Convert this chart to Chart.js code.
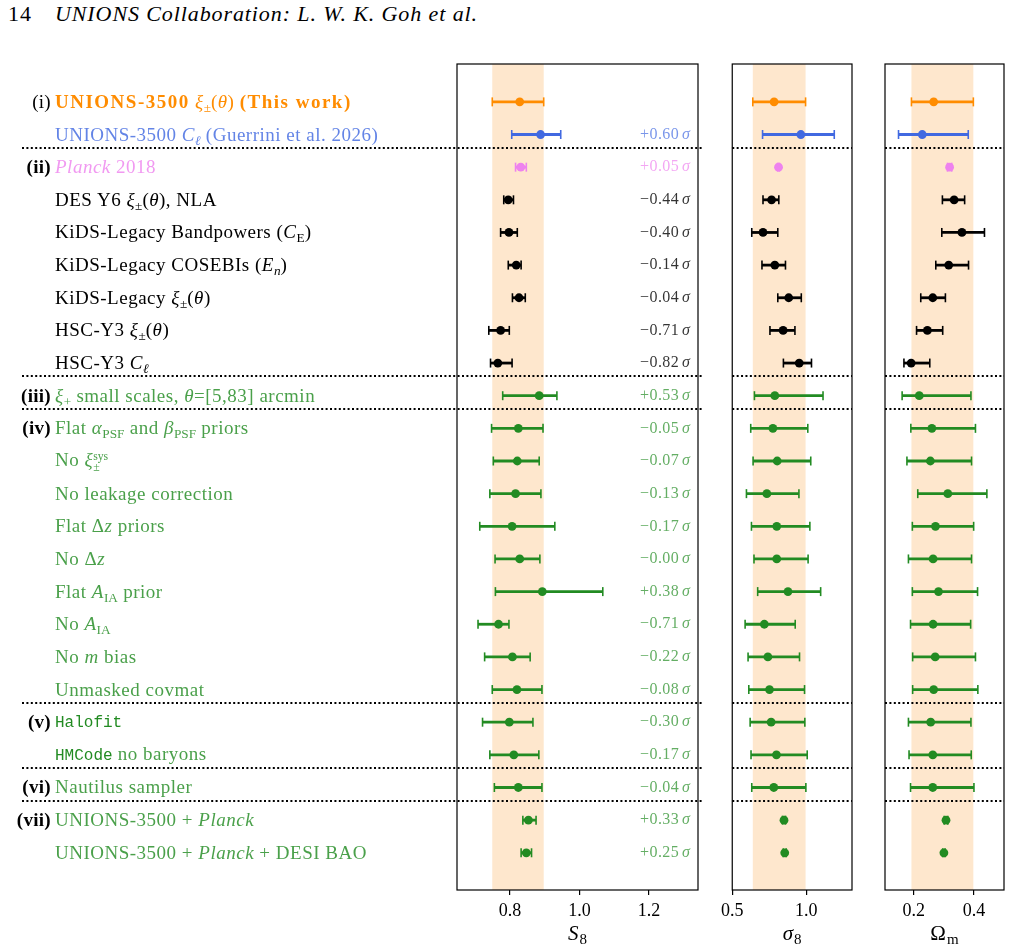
<!DOCTYPE html>
<html>
<head>
<meta charset="utf-8">
<script src="https://cdn.jsdelivr.net/npm/chart.js@4.4.1/dist/chart.umd.min.js"></script>
<style>
  body { margin: 0; background: #fff; width: 1012px; height: 951px; overflow: hidden; position: relative; font-family: "Liberation Serif", serif; }
  canvas { position: absolute; top: 0; }
  .hdr { position: absolute; top: 1px; font-size: 22px; letter-spacing: 0.9px; white-space: nowrap; }
  .lab { position: absolute; left: 55px; white-space: nowrap; font-size: 19px; letter-spacing: 0.5px; line-height: 20px; transform: translateY(-50%); }
  .lab b { letter-spacing: 1.5px; }
  .tag { position: absolute; right: 961px; white-space: nowrap; font-size: 19px; letter-spacing: 0.3px; line-height: 20px; transform: translateY(-50%); color: #000; }
  sub { font-size: 0.7em; vertical-align: -0.3em; line-height: 0; letter-spacing: 0; }
  .ss { display: inline-flex; flex-direction: column; vertical-align: 0.55em; font-size: 0.62em; line-height: 0.95em; letter-spacing: 0; }
  .tt { font-family: "Liberation Mono", monospace; font-size: 16px; letter-spacing: 0; color: rgb(34,139,34); }
</style>
</head>
<body>
<div class="hdr" style="left:8px">14</div>
<div class="hdr" style="left:55px"><i>UNIONS Collaboration: L. W. K. Goh et al.</i></div>

<canvas id="cS8" width="712" height="951" style="left:0"></canvas>
<canvas id="cSig" width="150" height="951" style="left:716px"></canvas>
<canvas id="cOm" width="144" height="951" style="left:868px"></canvas>

<script>
// rows, top to bottom
const rowLabels = [
  '<b>UNIONS-3500</b> <i>ξ</i><sub>±</sub>(<i>θ</i>) <b>(This work)</b>',
  'UNIONS-3500 <i>C</i><sub><i>ℓ</i></sub> (Guerrini et al. 2026)',
  '<i>Planck</i> 2018',
  'DES Y6 <i>ξ</i><sub>±</sub>(<i>θ</i>), NLA',
  'KiDS-Legacy Bandpowers (<i>C</i><sub>E</sub>)',
  'KiDS-Legacy COSEBIs (<i>E</i><sub><i>n</i></sub>)',
  'KiDS-Legacy <i>ξ</i><sub>±</sub>(<i>θ</i>)',
  'HSC-Y3 <i>ξ</i><sub>±</sub>(<i>θ</i>)',
  'HSC-Y3 <i>C</i><sub><i>ℓ</i></sub>',
  '<i>ξ</i><sub>+</sub> small scales, <i>θ</i>=[5,83] arcmin',
  'Flat <i>α</i><sub>PSF</sub> and <i>β</i><sub>PSF</sub> priors',
  'No <i>ξ</i><span class="ss"><span>sys</span><span>±</span></span>',
  'No leakage correction',
  'Flat Δ<i>z</i> priors',
  'No Δ<i>z</i>',
  'Flat <i>A</i><sub>IA</sub> prior',
  'No <i>A</i><sub>IA</sub>',
  'No <i>m</i> bias',
  'Unmasked covmat',
  '<span class="tt">Halofit</span>',
  '<span class="tt">HMCode</span> no baryons',
  'Nautilus sampler',
  'UNIONS-3500 + <i>Planck</i>',
  'UNIONS-3500 + <i>Planck</i> + DESI BAO'
];
const groupTags = ['(i)', '', '<b>(ii)</b>', '', '', '', '', '', '', '<b>(iii)</b>', '<b>(iv)</b>', '', '', '', '', '', '', '', '',
  '<b>(v)</b>', '', '<b>(vi)</b>', '<b>(vii)</b>', ''];
const rowColor = ['orange', 'blue', 'violet', 'black', 'black', 'black', 'black', 'black', 'black',
  'green', 'green', 'green', 'green', 'green', 'green', 'green', 'green', 'green', 'green',
  'green', 'green', 'green', 'green', 'green'];
const shiftSigma = ['', '+0.60', '+0.05', '−0.44', '−0.40', '−0.14', '−0.04', '−0.71', '−0.82', '+0.53',
  '−0.05', '−0.07', '−0.13', '−0.17', '−0.00', '+0.38', '−0.71', '−0.22', '−0.08', '−0.30', '−0.17', '−0.04', '+0.33', '+0.25'];

// S8
const s8Mid = [0.828, 0.888, 0.831, 0.795, 0.797, 0.818, 0.826, 0.773, 0.765, 0.884, 0.824, 0.821, 0.816, 0.806, 0.828, 0.893, 0.767, 0.807, 0.820, 0.798, 0.811, 0.824, 0.853, 0.847];
const s8Lo  = [0.749, 0.805, 0.816, 0.782, 0.773, 0.795, 0.807, 0.739, 0.744, 0.779, 0.747, 0.752, 0.742, 0.713, 0.757, 0.758, 0.708, 0.727, 0.749, 0.721, 0.742, 0.755, 0.837, 0.832];
const s8Hi  = [0.897, 0.946, 0.847, 0.810, 0.821, 0.832, 0.844, 0.798, 0.806, 0.935, 0.895, 0.884, 0.889, 0.929, 0.886, 1.067, 0.797, 0.858, 0.892, 0.866, 0.883, 0.892, 0.875, 0.862];
// sigma_8
const sigMid = [0.783, 0.964, 0.813, 0.766, 0.708, 0.788, 0.882, 0.844, 0.953, 0.788, 0.775, 0.804, 0.734, 0.801, 0.801, 0.877, 0.717, 0.741, 0.752, 0.763, 0.799, 0.781, 0.850, 0.855];
const sigLo  = [0.639, 0.705, 0.807, 0.708, 0.632, 0.701, 0.808, 0.755, 0.846, 0.650, 0.625, 0.641, 0.596, 0.630, 0.647, 0.672, 0.587, 0.607, 0.612, 0.621, 0.627, 0.632, 0.840, 0.845];
const sigHi  = [0.996, 1.190, 0.819, 0.815, 0.808, 0.860, 0.967, 0.924, 1.036, 1.114, 1.011, 1.031, 0.951, 1.025, 1.013, 1.098, 0.926, 0.955, 0.989, 0.991, 1.007, 0.998, 0.860, 0.865];
// Omega_m
const omMid = [0.266, 0.228, 0.319, 0.334, 0.360, 0.316, 0.263, 0.245, 0.191, 0.218, 0.260, 0.255, 0.313, 0.272, 0.264, 0.282, 0.264, 0.271, 0.266, 0.256, 0.263, 0.263, 0.307, 0.300];
const omLo  = [0.192, 0.149, 0.312, 0.295, 0.293, 0.273, 0.223, 0.209, 0.167, 0.161, 0.190, 0.177, 0.213, 0.195, 0.182, 0.195, 0.189, 0.196, 0.196, 0.182, 0.184, 0.189, 0.301, 0.296];
const omHi  = [0.398, 0.381, 0.326, 0.369, 0.435, 0.382, 0.305, 0.296, 0.253, 0.390, 0.405, 0.392, 0.443, 0.399, 0.392, 0.412, 0.389, 0.405, 0.413, 0.390, 0.391, 0.400, 0.313, 0.304];

const s8Ticks = [0.8, 1.0, 1.2];
const sigTicks = [0.5, 1.0];
const omTicks = [0.2, 0.4];
const sepRows = [1.4, 8.4, 9.4, 18.4, 20.4, 21.4];

const palette = { orange: '255,140,0', blue: '65,105,225', violet: '238,130,238', black: '0,0,0', green: '34,139,34' };
const solid = (i) => 'rgb(' + palette[rowColor[i]] + ')';
const faded = (i, a) => 'rgba(' + palette[rowColor[i]] + ',' + a + ')';

function seg(ctx, x0, y0, x1, y1) {
  ctx.beginPath(); ctx.moveTo(x0, y0); ctx.lineTo(x1, y1); ctx.stroke();
}

const panelPlugin = {
  id: 'panel',
  beforeDatasetsDraw(chart, args, o) {
    const { ctx, chartArea: a, scales: { x, y } } = chart;
    ctx.save();
    // shaded band = this work's interval
    const b0 = x.getPixelForValue(o.lo[0]), b1 = x.getPixelForValue(o.hi[0]);
    ctx.fillStyle = '#fee7cd';
    ctx.fillRect(b0, a.top, b1 - b0, a.bottom - a.top);
    // error bars
    o.lo.forEach((lo, i) => {
      const yy = y.getPixelForValue(i);
      const x0 = x.getPixelForValue(lo), x1 = x.getPixelForValue(o.hi[i]);
      ctx.strokeStyle = solid(i);
      ctx.lineWidth = 2.8;
      seg(ctx, x0, yy, x1, yy);
      ctx.lineWidth = 1.6;
      seg(ctx, x0, yy - 4.5, x0, yy + 4.5);
      seg(ctx, x1, yy - 4.5, x1, yy + 4.5);
    });
    ctx.restore();
  },
  afterDatasetsDraw(chart, args, o) {
    const { ctx, chartArea: a, scales: { x, y } } = chart;
    ctx.save();
    // separators
    ctx.strokeStyle = '#000';
    ctx.lineWidth = 1.8;
    ctx.setLineDash([2, 2.4]);
    sepRows.forEach(r => {
      const yy = Math.round(y.getPixelForValue(r));
      seg(ctx, o.sepFrom != null ? o.sepFrom : a.left, yy, o.sepTo != null ? o.sepTo : a.right, yy);
    });
    ctx.setLineDash([]);
    // frame
    ctx.lineWidth = 1.2;
    ctx.strokeRect(a.left, a.top, a.right - a.left, a.bottom - a.top);
    // shift in sigma
    if (o.sigma) {
      ctx.textAlign = 'right';
      ctx.textBaseline = 'middle';
      shiftSigma.forEach((s, i) => {
        if (!s) return;
        const yy = y.getPixelForValue(i);
        ctx.fillStyle = faded(i, rowColor[i] === 'black' ? 0.8 : 0.7);
        ctx.font = 'italic 16px "Liberation Serif"';
        const wS = ctx.measureText('σ').width;
        ctx.fillText('σ', a.right - 8, yy);
        ctx.font = '16px "Liberation Serif"';
        ctx.letterSpacing = '0.4px';
        ctx.fillText(s, a.right - 8 - wS - 3, yy);
        ctx.letterSpacing = '0px';
      });
    }
    // axis title
    const t = o.title, cx = (a.left + a.right) / 2, by = 940;
    ctx.fillStyle = '#000';
    ctx.textBaseline = 'alphabetic';
    ctx.textAlign = 'left';
    const mFont = (t.italic ? 'italic ' : '') + '21px "Liberation Serif"';
    const sFont = (t.subItalic ? 'italic ' : '') + '15px "Liberation Serif"';
    ctx.font = mFont; const wm = ctx.measureText(t.main).width;
    ctx.font = sFont; const ws = ctx.measureText(t.sub).width;
    const sx = cx - (wm + ws + 1) / 2;
    ctx.font = mFont; ctx.fillText(t.main, sx, by);
    ctx.font = sFont; ctx.fillText(t.sub, sx + wm + 1, by + 4);
    ctx.restore();
  }
};

function makePanel(id, mid, lo, hi, xmin, xmax, ticks, pad, extra) {
  return new Chart(document.getElementById(id), {
    type: 'scatter',
    data: {
      datasets: [{
        data: mid.map((v, i) => ({ x: v, y: i })),
        pointRadius: 4.4,
        pointHoverRadius: 4.4,
        pointBorderWidth: 0,
        pointBackgroundColor: mid.map((v, i) => solid(i))
      }]
    },
    options: {
      responsive: false,
      animation: false,
      devicePixelRatio: 1,
      layout: { padding: pad },
      plugins: {
        legend: { display: false },
        tooltip: { enabled: false },
        panel: Object.assign({ lo: lo, hi: hi }, extra)
      },
      scales: {
        y: { type: 'linear', reverse: true, min: -1.16, max: 24.14, display: false },
        x: {
          type: 'linear', min: xmin, max: xmax,
          afterBuildTicks: s => { s.ticks = ticks.map(v => ({ value: v })); },
          afterFit: s => { s.height = 61; },
          border: { display: false },
          grid: { drawOnChartArea: false, drawTicks: true, tickLength: 5, color: '#000', lineWidth: 1.2 },
          ticks: {
            color: '#000', padding: 5, maxRotation: 0, autoSkip: false,
            font: { family: 'Liberation Serif', size: 18 },
            callback: v => v.toFixed(1)
          }
        }
      }
    },
    plugins: [panelPlugin]
  });
}

const chS8 = makePanel('cS8', s8Mid, s8Lo, s8Hi, 0.6475, 1.341, s8Ticks,
  { left: 457, right: 14, top: 64, bottom: 0 },
  { sigma: true, sepFrom: 22, sepTo: 703, title: { main: 'S', italic: true, sub: '8', subItalic: false } });
makePanel('cSig', sigMid, sigLo, sigHi, 0.5, 1.31, sigTicks,
  { left: 15, right: 14, top: 64, bottom: 0 },
  { title: { main: 'σ', italic: true, sub: '8', subItalic: false } });
makePanel('cOm', omMid, omLo, omHi, 0.104, 0.5, omTicks,
  { left: 17, right: 8, top: 64, bottom: 0 },
  { title: { main: 'Ω', italic: false, sub: 'm', subItalic: false } });

// left-hand row labels, placed on the S8 panel's y scale
const ys = chS8.scales.y;
rowLabels.forEach((html, i) => {
  const yy = ys.getPixelForValue(i);
  const d = document.createElement('div');
  d.className = 'lab';
  d.innerHTML = html;
  d.style.top = yy + 'px';
  const c = rowColor[i];
  d.style.color = c === 'black' ? '#000' : (c === 'orange' ? solid(i) : faded(i, 0.82));
  document.body.appendChild(d);
  if (groupTags[i]) {
    const t = document.createElement('div');
    t.className = 'tag';
    t.innerHTML = groupTags[i];
    t.style.top = yy + 'px';
    document.body.appendChild(t);
  }
});
</script>
</body>
</html>
